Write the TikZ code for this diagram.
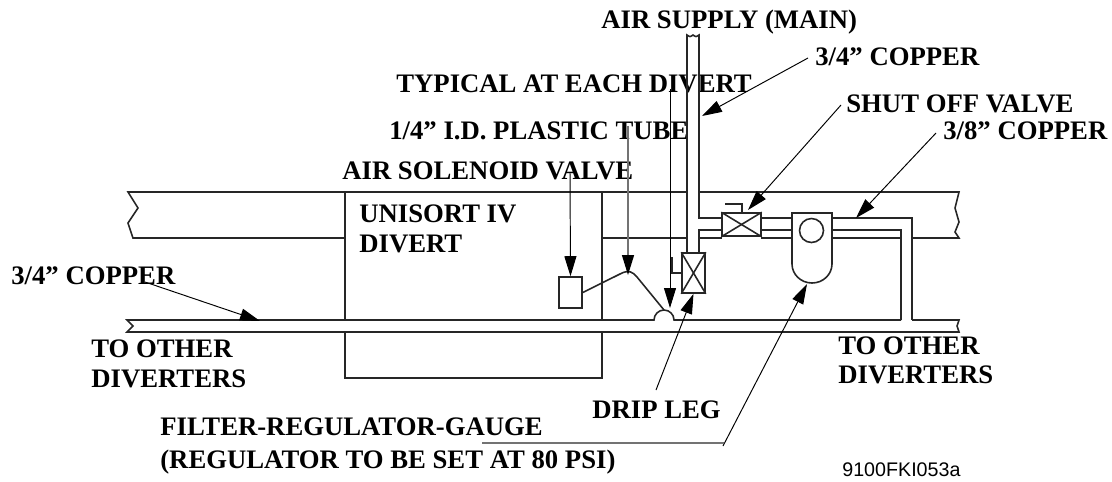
\documentclass[tikz,border=0pt]{standalone}
\usepackage{fontspec}
\setmainfont{Liberation Serif}
\newfontfamily\codefont{Liberation Sans}
\usepackage{tikz}
\usetikzlibrary{arrows.meta, positioning, calc}

\tikzset{
    label/.style={anchor=base west, inner sep=0pt, font=\fontsize{15.2pt}{18pt}\selectfont\bfseries},
    pipe/.style={line width=0.9pt, black!85},
    leader/.style={line width=0.55pt, -{Triangle[length=0.4cm, width=0.24cm]}},
    greyleader/.style={line width=0.8pt, draw=black!55, fill=black, {Triangle[length=0.4cm, width=0.24cm, color=black]}-},
}

\begin{document}
\begin{tikzpicture}[x=0.02cm, y=-0.02cm]
    \useasboundingbox (0,0) rectangle (1112,481);

    % labels
    \node (main) [label] at (601,28) {AIR SUPPLY (MAIN)};
    \node (coppertop) [label] at (815,65) {3/4” COPPER};
    \node (typical) [label] at (396,92) {TYPICAL AT EACH DIVERT};
    \node (shutoff) [label] at (846,112) {SHUT OFF VALVE};
    \node (plastic) [label] at (389,139) {1/4” I.D. PLASTIC TUBE};
    \node (copperright) [label] at (943,139) {3/8” COPPER};
    \node (solenoid) [label] at (342,179) {AIR SOLENOID VALVE};
    \node (unisort) [label] at (359,222) {UNISORT IV};
    \node (divert) [label] at (359,252) {DIVERT};
    \node (copperleft) [label] at (11,284) {3/4” COPPER};
    \node (otherleft) [label] at (91,357) {TO OTHER};
    \node (diverterleft) [label] at (91,387) {DIVERTERS};
    \node (otherright) [label] at (838,354) {TO OTHER};
    \node (diverterright) [label] at (838,383) {DIVERTERS};
    \node (drip) [label] at (592,418) {DRIP LEG};
    \node (filter) [label] at (160,435) {FILTER-REGULATOR-GAUGE};
    \node (regulator) [label] at (160,468) {(REGULATOR TO BE SET AT 80 PSI)};
    \node (code) [anchor=base west, inner sep=0pt, font=\codefont\fontsize{11.2pt}{13pt}\selectfont] at (842,476) {9100FKI053a};

    % conveyor frame
    \draw[pipe] (687,192) -- (128,192) -- (138,208) -- (128,223) -- (133,238) -- (345,238);
    \draw[pipe] (699,192) -- (959,192) -- (955,208) -- (959,222) -- (955,232) -- (959,238) -- (912,238);
    \draw[pipe] (345,192) -- (345,320);
    \draw[pipe] (602,192) -- (602,320);
    \draw[pipe] (345,332) -- (345,378) -- (602,378) -- (602,332);
    \draw[pipe] (602,238) -- (687,238);
    \draw[pipe] (699,238) -- (722,238);
    \draw[pipe] (761,238) -- (792,238);
    \draw[pipe] (832,238) -- (901,238);

    % header with drip leg bump
    \draw[pipe] (901,320) -- (674,320) arc[start angle=0, end angle=-180, x radius=10, y radius=10] -- (127,320) -- (133,326) -- (127,332) -- (959,332) -- (957,326) -- (959,320) -- (912,320);

    % supply piping
    \draw[pipe] (687,253) -- (687,35) .. controls (690,37) .. (693,35) .. controls (696,37) .. (699,35) -- (699,218) -- (722,218);
    \draw[pipe] (722,230) -- (699,230) -- (699,253);
    \draw[pipe] (761,218) -- (792,218);
    \draw[pipe] (761,230) -- (792,230);
    \draw[pipe] (832,218) -- (912,218) -- (912,320);
    \draw[pipe] (832,230) -- (901,230) -- (901,320);

    % shut off valve
    \node (shutbox) [draw, pipe, minimum width=0.78cm, minimum height=0.46cm, inner sep=0pt] at (741.5,224.5) {};
    \draw[pipe] (shutbox.north west) -- (shutbox.south east);
    \draw[pipe] (shutbox.south west) -- (shutbox.north east);
    \draw[pipe] (742,213) -- (742,204) -- (725,204);

    % drain valve
    \node (drainbox) [draw, pipe, minimum width=0.46cm, minimum height=0.8cm, inner sep=0pt] at (693.5,273) {};
    \draw[pipe] (drainbox.north west) -- (drainbox.south east);
    \draw[pipe] (drainbox.south west) -- (drainbox.north east);
    \draw[pipe] (672,257) -- (672,273) -- (682,273);

    % filter regulator gauge
    \draw[pipe] (792,213) -- (832,213) -- (832,264) arc[start angle=0, end angle=180, x radius=20, y radius=19] -- cycle;
    \node (gauge) [draw, pipe, circle, minimum size=0.48cm, inner sep=0pt] at (811.5,230.5) {};

    % air solenoid and tube
    \node (airvalve) [draw, pipe, minimum width=0.46cm, minimum height=0.62cm, inner sep=0pt] at (570.5,292.5) {};
    \draw[pipe] (airvalve.east) -- (622,273) .. controls (629,270) and (633,272) .. (637,277) -- (664,310);

    % leaders
    \coordinate (solenoidtail) at (570,172);
    \coordinate (plastictail) at (628,126);
    \coordinate (typicaltail) at (670,89);
    \coordinate (coppertoptail) at (808,58);
    \coordinate (shutofftail) at (841,105);
    \coordinate (copperrighttail) at (936,133);
    \coordinate (copperlefttail) at (145,282);
    \coordinate (driptail) at (656,390);
    \coordinate (filterbend) at (723,446);
    \coordinate (filtertail) at (482,443);
    \coordinate (filterknee) at (724,443);
    \draw[leader] (solenoidtail) -- (airvalve.north);
    \draw[greyleader] (628,275) -- (plastictail);
    \draw[leader] (typicaltail) -- (670,308);
    \draw[leader] (coppertoptail) -- (702,116);
    \draw[leader] (shutofftail) -- (748,210);
    \draw[leader] (copperrighttail) -- (856,218);
    \draw[leader] (copperlefttail) -- (260,321);
    \draw[leader] (driptail) -- (drainbox.south);
    \draw[leader] (filterbend) -- (807,284);
    \draw[line width=1pt, black!55] (filtertail) -- (filterknee);
\end{tikzpicture}
\end{document}
